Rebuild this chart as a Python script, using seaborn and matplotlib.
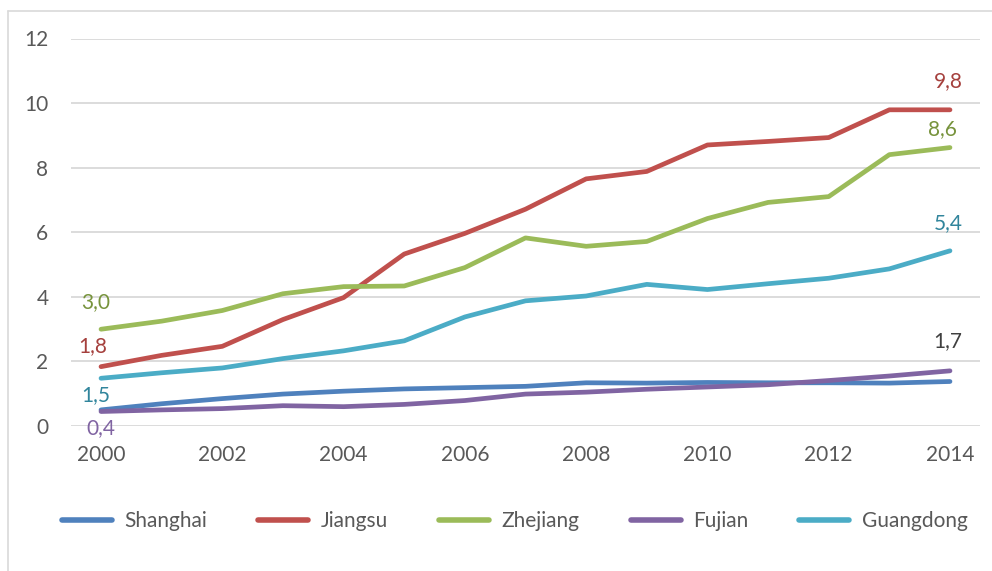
import matplotlib
matplotlib.use("Agg")
import matplotlib.pyplot as plt
from matplotlib.lines import Line2D
import pandas as pd
import seaborn as sns

# Annual values by province, 2000-2014
years = list(range(2000, 2015))
shanghai = [0.49, 0.68, 0.84, 0.98, 1.07, 1.14, 1.18, 1.22, 1.33, 1.32, 1.34, 1.33, 1.33, 1.32, 1.37]
jiangsu = [1.83, 2.18, 2.46, 3.29, 3.97, 5.32, 5.96, 6.71, 7.65, 7.88, 8.70, 8.81, 8.93, 9.79, 9.79]
zhejiang = [2.99, 3.24, 3.57, 4.09, 4.31, 4.33, 4.90, 5.82, 5.56, 5.71, 6.42, 6.92, 7.10, 8.40, 8.62]
fujian = [0.44, 0.49, 0.53, 0.62, 0.59, 0.66, 0.78, 0.98, 1.04, 1.13, 1.20, 1.27, 1.40, 1.54, 1.70]
guangdong = [1.47, 1.64, 1.79, 2.08, 2.32, 2.63, 3.37, 3.87, 4.02, 4.38, 4.22, 4.40, 4.57, 4.86, 5.42]

provinces = ["Shanghai", "Jiangsu", "Zhejiang", "Fujian", "Guangdong"]
series = [shanghai, jiangsu, zhejiang, fujian, guangdong]
colors = ["#4F81BD", "#C0504D", "#9BBB59", "#8064A2", "#4BACC6"]

y_ticks = [0, 2, 4, 6, 8, 10, 12]
x_ticks = list(range(2000, 2015, 2))

df = pd.DataFrame(
    [(p, yr, v) for p, vals in zip(provinces, series) for yr, v in zip(years, vals)],
    columns=["province", "year", "value"],
)

sns.set_theme(style="white")
plt.rcParams["font.family"] = ["Lato", "DejaVu Sans"]
text_color = "#595959"
grid_color = "#D9D9D9"
fs = 15

fig = plt.figure(figsize=(9.92, 5.71), dpi=100)
ax = fig.add_axes([70.7 / 992, 1 - 425.7 / 571, (980.3 - 70.7) / 992, (425.7 - 38.5) / 571])

sns.lineplot(
    data=df, x="year", y="value", hue="province", hue_order=provinces,
    palette=colors, linewidth=3.4, ax=ax, sort=False, estimator=None,
    solid_capstyle="round", solid_joinstyle="round",
)

ax.set_xlim(1999.5, 2014.5)
ax.set_ylim(0, 12)
ax.set_yticks(y_ticks)
ax.set_xticks(x_ticks)
ax.set_xticklabels([str(x) for x in x_ticks])
ax.set_yticklabels([str(y) for y in y_ticks])
ax.set_xlabel("")
ax.set_ylabel("")
ax.grid(axis="y", color=grid_color, linewidth=1.3)
ax.set_axisbelow(True)
for s in ax.spines.values():
    s.set_visible(False)
ax.tick_params(axis="both", length=0, labelsize=fs, colors=text_color)
ax.tick_params(axis="x", pad=14)
ax.tick_params(axis="y", pad=16)

# Data labels at the ends of the series
def fmt(v):
    return f"{v:.1f}".replace(".", ",")

end_labels = [
    (jiangsu, 2014, (-2, 29), "#A5403D"),
    (zhejiang, 2014, (-8, 18), "#77933C"),
    (guangdong, 2014, (-2, 28), "#31859C"),
    (fujian, 2014, (-2, 30), "#404040"),
    (zhejiang, 2000, (-5, 27), "#77933C"),
    (jiangsu, 2000, (-8, 21), "#A5403D"),
    (guangdong, 2000, (-5, -17), "#31859C"),
    (fujian, 2000, (0, -17), "#8064A2"),
]
for vals, yr, off, col in end_labels:
    v = vals[years.index(yr)]
    ax.annotate(fmt(v), xy=(yr, v), xytext=off, textcoords="offset pixels",
                ha="center", va="center", fontsize=fs, color=col)

# Legend below the plot
leg_handles = [Line2D([0], [0], color=c, linewidth=4, solid_capstyle="round") for c in colors]
if ax.get_legend() is not None:
    ax.get_legend().remove()
fig.legend(leg_handles, provinces, loc="center", bbox_to_anchor=(0.519, 1 - 521 / 571),
           ncol=5, frameon=False, fontsize=fs, handlelength=2.4, handletextpad=0.6,
           columnspacing=2.45, labelcolor=text_color)

# Chart frame
fig.add_artist(Line2D([8 / 992, 1.0], [1 - 11 / 571] * 2, transform=fig.transFigure,
                      color=grid_color, linewidth=1.2))
fig.add_artist(Line2D([8 / 992] * 2, [0, 1 - 11 / 571], transform=fig.transFigure,
                      color=grid_color, linewidth=1.2))

fig.savefig("out.png", dpi=100, facecolor="white")
